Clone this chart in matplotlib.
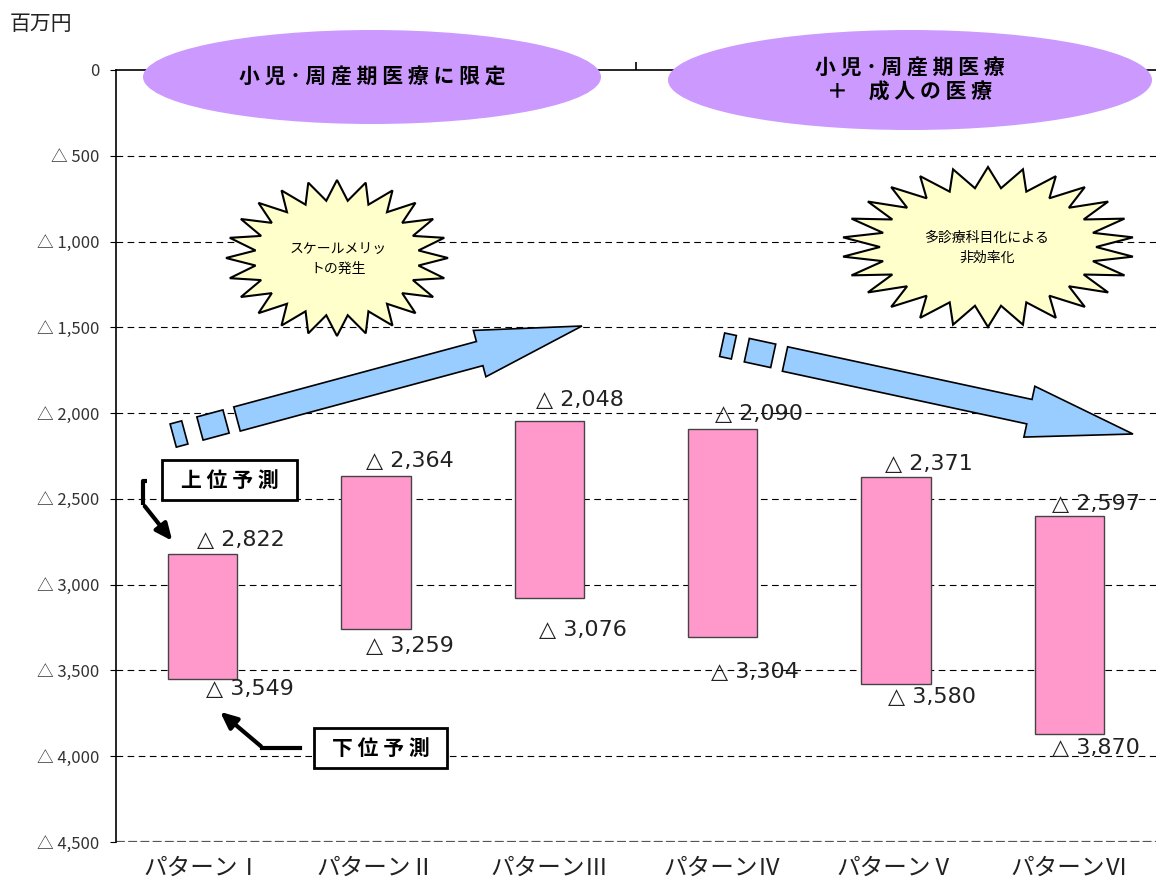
import numpy as np
import matplotlib
matplotlib.use("Agg")
import matplotlib.pyplot as plt
from matplotlib.patches import Ellipse, Polygon

plt.rcParams['font.family'] = ['Noto Sans CJK JP', 'DejaVu Sans']

# data (百万円, 赤字 = 負)
patterns = ['パターンⅠ', 'パターンⅡ', 'パターンⅢ', 'パターンⅣ', 'パターンⅤ', 'パターンⅥ']
upper = np.array([-2822, -2364, -2048, -2090, -2371, -2597])   # 上位予測
lower = np.array([-3549, -3259, -3076, -3304, -3580, -3870])   # 下位予測
yticks = [0, -500, -1000, -1500, -2000, -2500, -3000, -3500, -4000, -4500]

# label offsets in pixels (dx, dy) relative to bar centre / edge
up_off = [(-6, 14), (-10, 15), (-13, 21), (-8, 15), (-11, 13), (-17, 12)]
lo_off = [(3, -10), (-10, -17), (-10, -32), (-12, -35), (-8, -13), (-17, -14)]

W, H = 1156, 886
fig = plt.figure(figsize=(W / 100, H / 100), dpi=100)
ax = fig.add_axes([116 / W, 1 - 842 / H, 1040 / W, 772 / H])
ax.set_xlim(0, 6)
ax.set_ylim(-4500, 0)

# pixel (from top-left) -> data
def px(x, y):
    return ((x - 116) / (1040 / 6), -(y - 70) / 772 * 4500)

def pxpoly(pts, **kw):
    return Polygon([px(a, b) for a, b in pts], closed=True, clip_on=False, **kw)

# grid
for t in yticks[1:]:
    ax.axhline(t, color='k', lw=0.8, ls=(0, (6, 4)), zorder=0)
ax.axhline(-4500, color='#555555', lw=1.6, ls=(0, (4, 1.5)), zorder=0)

x = np.arange(len(patterns)) + 0.5
ax.bar(x, upper - lower, bottom=lower, width=0.4, color='#FF99CC',
       edgecolor='#444444', lw=1, zorder=2)

lab_font = dict(fontsize=16, color='#222222', family=['DejaVu Sans'])
for i in range(len(x)):
    ax.annotate('△ {:,}'.format(-upper[i]), (x[i], upper[i]), xytext=up_off[i],
                textcoords='offset pixels', ha='left', va='center', **lab_font)
    ax.annotate('△ {:,}'.format(-lower[i]), (x[i], lower[i]), xytext=lo_off[i],
                textcoords='offset pixels', ha='left', va='center', **lab_font)

# axes
for s in ['right', 'bottom']:
    ax.spines[s].set_visible(False)
ax.spines['left'].set_linewidth(1.2)
ax.spines['top'].set_linewidth(1.2)
ax.set_yticks(yticks)
ax.set_yticklabels(['0' if t == 0 else '△ {:,}'.format(-t) for t in yticks],
                   fontsize=12, color='#333333')
ax.tick_params(axis='y', length=4, pad=8)
ax.set_xticks(x)
ax.set_xticklabels(patterns, fontsize=17, color='#222222')
ax.tick_params(axis='x', which='major', length=0, pad=11)
ax.set_xticks(np.arange(1, 6), minor=True)
ax.tick_params(axis='x', which='minor', top=True, bottom=False, length=6,
               direction='out', width=1.2)

fig.text(10 / W, 1 - 24 / H, '百万円', fontsize=15, va='center', ha='left', color='#222222')

# ellipses
for cx, cy, ew, eh, txt in [(372, 77, 458, 94, '小 児 ･ 周 産 期 医 療 に 限 定'),
                            (910, 80, 484, 100, '小 児 ･ 周 産 期 医 療\n＋　成 人 の 医 療')]:
    c = px(cx, cy)
    ax.add_patch(Ellipse(c, ew / (1040 / 6), eh / 772 * 4500, facecolor='#CC99FF',
                         edgecolor='none', clip_on=False, zorder=3))
    ax.text(c[0], c[1], txt, ha='center', va='center', fontsize=15, weight='bold',
            linespacing=1.15, zorder=4)

# starbursts
def star(cx, cy, rx, ry, n=24, k=0.74):
    pts = []
    for j in range(2 * n):
        a = np.pi * j / n + np.pi / 2
        r = 1.0 if j % 2 == 0 else k
        pts.append((cx + rx * r * np.cos(a), cy - ry * r * np.sin(a)))
    return pts

ax.add_patch(pxpoly(star(337, 258, 111, 78), facecolor='#FFFFCC', edgecolor='k', lw=1.5, zorder=3))
ax.text(*px(338, 259), 'スケールメリッ\nトの発生', ha='center', va='center', fontsize=10,
        linespacing=1.5, zorder=4)
ax.add_patch(pxpoly(star(988, 247, 146, 80, n=26), facecolor='#FFFFCC', edgecolor='k', lw=1.5, zorder=3))
ax.text(*px(987, 248), '多診療科目化による\n非効率化', ha='center', va='center', fontsize=10,
        linespacing=1.5, zorder=4)

# block arrows
def block_arrow(p0, p1, w, hw, hl):
    p0, p1 = np.array(p0, float), np.array(p1, float)
    d = (p1 - p0) / np.linalg.norm(p1 - p0)
    n = np.array([-d[1], d[0]])
    b = p1 - d * hl
    return [p0 + n * w / 2, b + n * w / 2, b + n * hw / 2, p1,
            b - n * hw / 2, b - n * w / 2, p0 - n * w / 2]

def dash_rect(c, d, L, w):
    c, d = np.array(c, float), np.array(d, float)
    d = d / np.linalg.norm(d)
    n = np.array([-d[1], d[0]])
    return [c - d * L / 2 + n * w / 2, c + d * L / 2 + n * w / 2,
            c + d * L / 2 - n * w / 2, c - d * L / 2 - n * w / 2]

arrow_kw = dict(facecolor='#99CCFF', edgecolor='k', lw=1.2, zorder=3)
for p0, p1, hw, dashes in [((237, 419), (582, 326), 48, [((179, 434), 12), ((213, 425), 27)]),
                           ((785, 359), (1133, 434), 52, [((728, 346), 12), ((760, 353), 27)])]:
    ax.add_patch(pxpoly(block_arrow(p0, p1, 25, hw, 106), **arrow_kw))
    d = np.array(p1) - np.array(p0)
    for c, L in dashes:
        ax.add_patch(pxpoly(dash_rect(c, d, L, 24), **arrow_kw))

# boxes
for (bx0, by0, bx1, by1), txt in [((162, 460, 297, 500), '上 位 予 測'),
                                  ((314, 728, 447, 768), '下 位 予 測')]:
    ax.add_patch(pxpoly([(bx0, by0), (bx1, by0), (bx1, by1), (bx0, by1)],
                        facecolor='white', edgecolor='k', lw=2, zorder=4))
    ax.text(*px((bx0 + bx1) / 2, (by0 + by1) / 2), txt, ha='center', va='center',
            fontsize=15, weight='bold', zorder=5)

# pointers
ax.plot(*zip(px(147, 481), px(143, 481), px(143, 505)), color='k', lw=3,
        solid_capstyle='butt', clip_on=False, zorder=4)
ax.annotate('', xy=px(174, 543), xytext=px(143, 504),
            arrowprops=dict(arrowstyle='-|>,head_length=1.0,head_width=0.45', color='k', lw=3))
ax.plot(*zip(px(300, 748), px(262, 748)), color='k', lw=3, clip_on=False, zorder=4)
ax.annotate('', xy=px(218, 710), xytext=px(263, 748),
            arrowprops=dict(arrowstyle='-|>,head_length=1.0,head_width=0.45', color='k', lw=3))

fig.savefig('out.png', dpi=100)
